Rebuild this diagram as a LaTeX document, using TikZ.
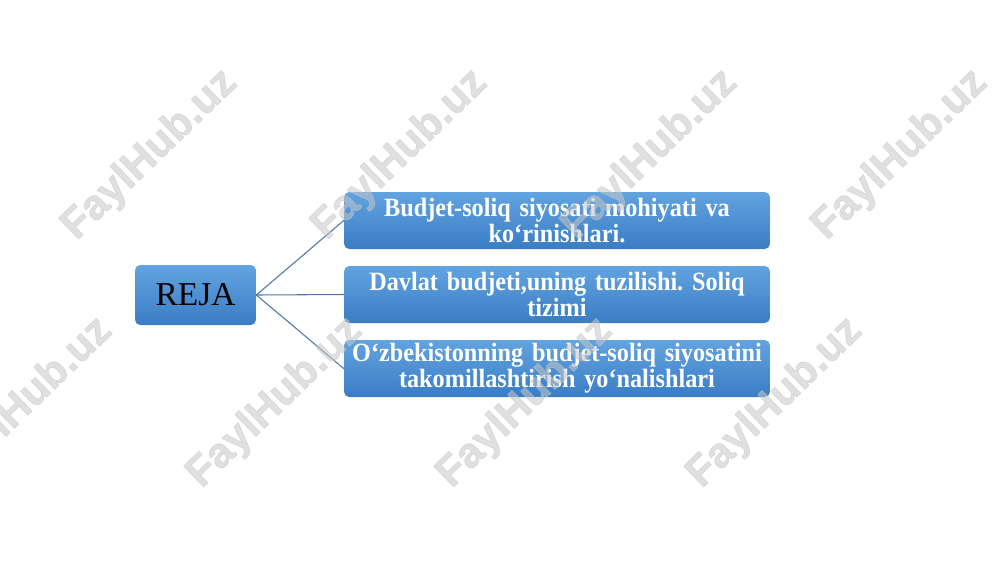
\documentclass[tikz,border=0pt]{standalone}
\usepackage{fontspec}
\setmainfont{Liberation Serif}
\newfontfamily\boxfont[FakeStretch=0.92]{Liberation Serif}
\newfontfamily\wmfont[BoldFeatures={FakeBold=1.6}]{Liberation Sans}
\definecolor{boxtop}{RGB}{98,163,224}
\definecolor{boxbot}{RGB}{58,125,196}
\definecolor{linkblue}{RGB}{74,118,170}
\begin{document}
\begin{tikzpicture}[x=0.02cm, y=-0.02cm, line join=round, line cap=round,
  blue box/.style={rounded corners=3pt, top color=boxtop, bottom color=boxbot, draw=none, inner sep=0pt},
  reja/.style={blue box, minimum width=2.42cm, minimum height=1.2cm, font=\fontsize{19}{22}\selectfont},
  item/.style={blue box, minimum width=8.52cm, minimum height=1.14cm, text width=8.5cm, align=center,
    text=white, font=\boxfont\fontsize{15}{14.8}\selectfont\bfseries\frenchspacing},
  link/.style={draw=linkblue, line width=0.6pt},
  watermark/.style={rotate=44, font=\wmfont\bfseries\fontsize{24}{24}\selectfont, text=gray!45, opacity=0.55}]
\useasboundingbox (0,0) rectangle (1000,562);
\node[reja] (reja) at (195.5,295) {REJA};
\node[item] (p1) at (557,220.5) {Budjet-soliq siyosati mohiyati va\\ko‘rinishlari.};
\node[item] (p2) at (557,294.5) {Davlat budjeti,uning tuzilishi. Soliq\\tizimi};
\node[item] (p3) at (557,368.5) {O‘zbekistonning budjet-soliq siyosatini\\takomillashtirish yo‘nalishlari};
\draw[link] (reja.east) -- (p1.west);
\draw[link] (reja.east) -- (p2.west);
\draw[link] (reja.east) -- (p3.west);
% watermarks
\foreach \x/\y [count=\i] in {150/155,400/155,650/155,900/155,25/403,275/403,525/403,775/403}
  \node[watermark] (wm\i) at (\x,\y) {FaylHub.uz};
\end{tikzpicture}
\end{document}
